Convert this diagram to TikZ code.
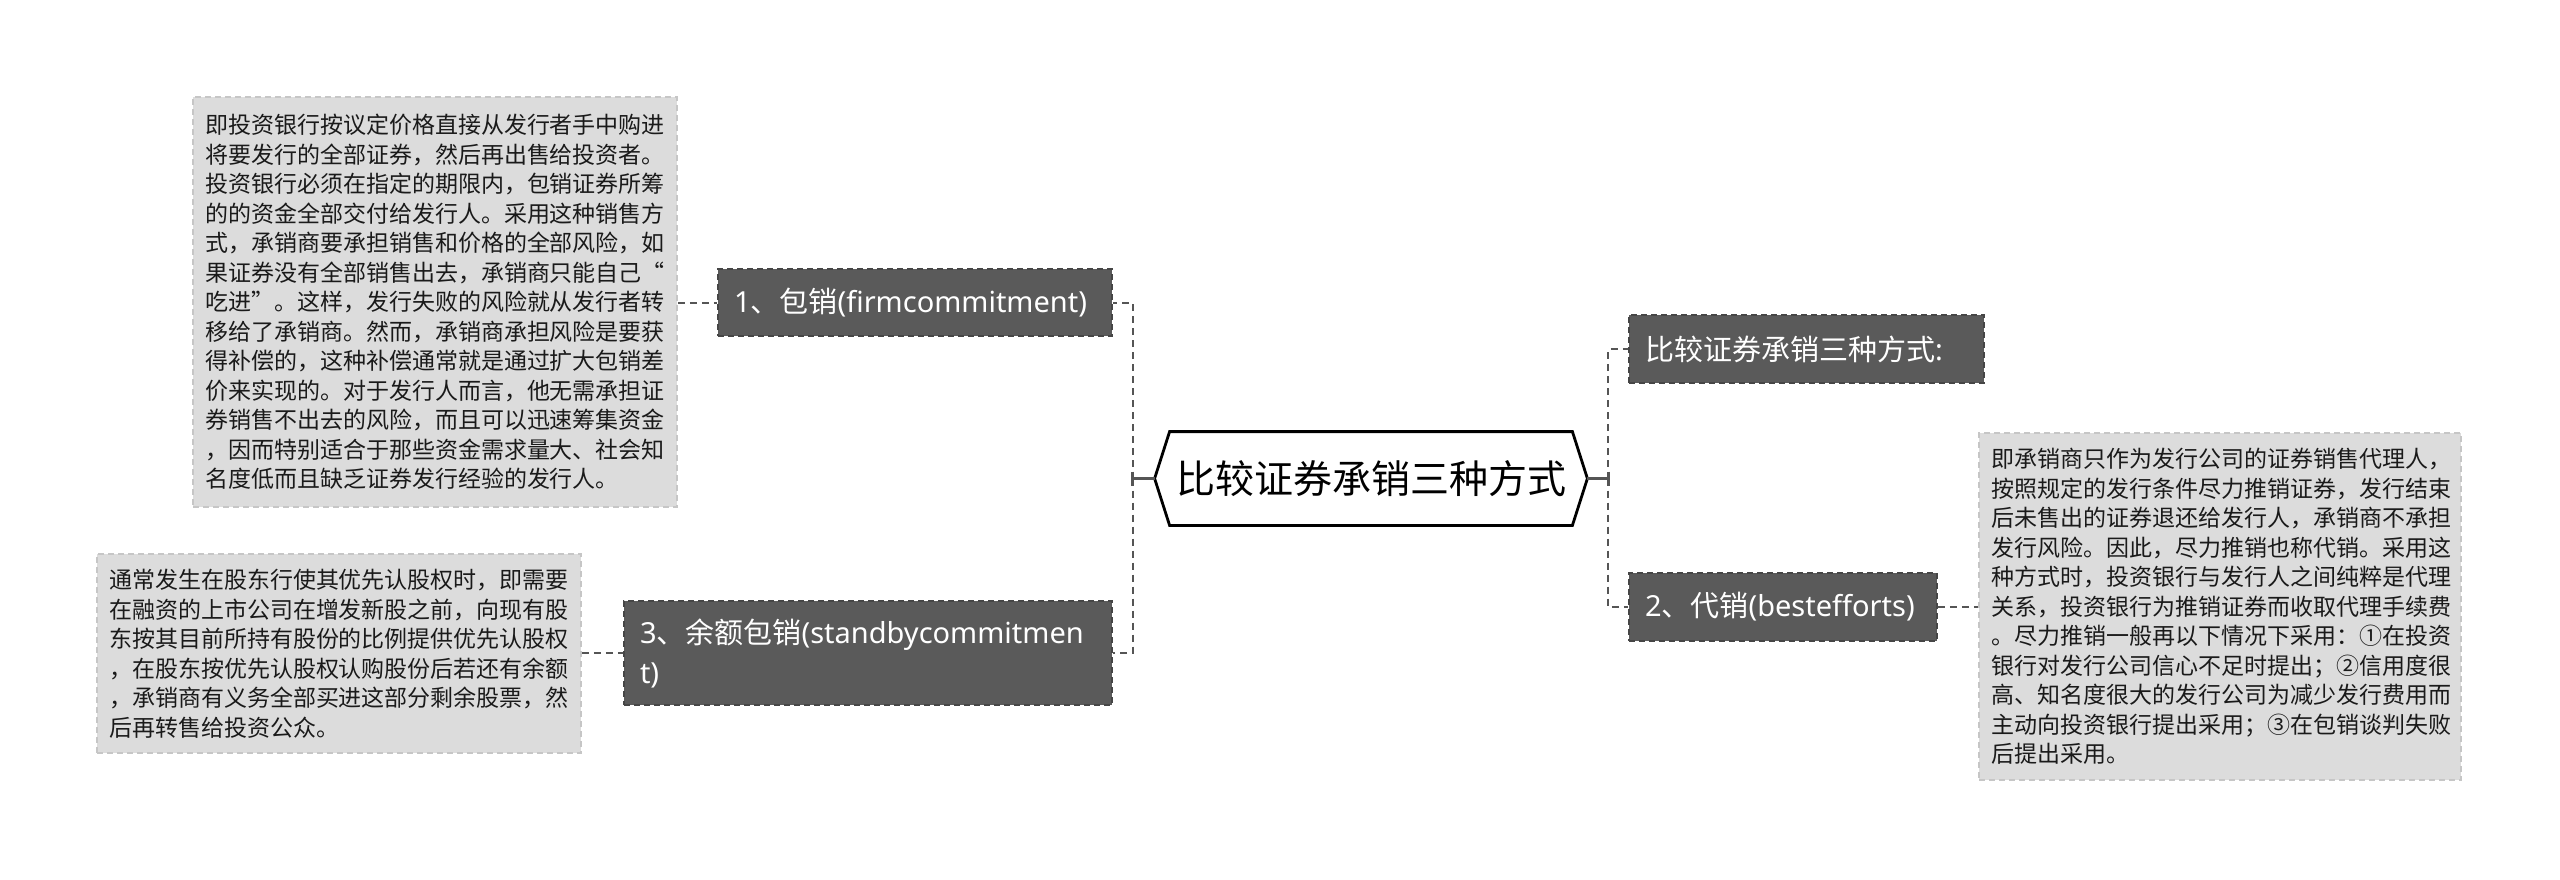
\documentclass[tikz,border=0pt]{standalone}
\usepackage{fontspec}
\setmainfont{Noto Sans}
\newfontfamily\cjk{Noto Sans CJK SC}
\usetikzlibrary{calc}
\definecolor{branchfill}{HTML}{5A5A5A}
\definecolor{branchline}{HTML}{464646}
\definecolor{notefill}{HTML}{DCDCDC}
\definecolor{noteline}{HTML}{C6C6C6}
\definecolor{connc}{HTML}{555555}
\definecolor{notetext}{HTML}{1A1A1A}
\begin{document}
\begin{tikzpicture}[x=0.5pt,y=-0.5pt,
  branch/.style={draw=branchline, dash pattern=on 3pt off 2pt, line width=0.8pt, fill=branchfill, text=white,
    font=\fontsize{14.5pt}{20pt}\selectfont, align=left, inner xsep=8pt, inner ysep=0pt},
  note/.style={draw=noteline, dash pattern=on 3pt off 2pt, line width=0.8pt, fill=notefill, text=notetext,
    font=\cjk\fontsize{11.5pt}{14.75pt}\selectfont, align=left, inner xsep=6pt, inner ysep=0pt},
  link/.style={draw=connc, line width=1pt, dash pattern=on 3.5pt off 2.5pt},
  stem/.style={draw=connc, line width=1.5pt},
  hexline/.style={draw=black, line width=1.4pt, line join=miter}]
\useasboundingbox (0,0) rectangle (2560,879);

% root
\node[inner sep=0pt, minimum width=201pt, minimum height=46.5pt,
  font=\cjk\fontsize{19.5pt}{24pt}\selectfont] (root) at (1371,478.5) {比较证券承销三种方式};
\coordinate (hexL) at ($(root.west)+(-15,0)$);
\coordinate (hexR) at ($(root.east)+(15,0)$);
\draw[hexline] (hexL) -- (root.north west) -- (root.north east) -- (hexR)
  -- (root.south east) -- (root.south west) -- cycle;

% branches
\node[branch, text width=181pt, minimum height=33.5pt] (b1) at (915,302.5)
  {1{\cjk 、包销}(firmcommitment)};
\node[branch, text width=228pt, minimum height=52pt] (b3) at (868,653)
  {3{\cjk 、余额包销}(standbycommitmen\\t)};
\node[branch, text width=161.5pt, minimum height=34pt] (tr) at (1806.5,349)
  {{\cjk 比较证券承销三种方式}:};
\node[branch, text width=138pt, minimum height=34pt] (b2) at (1783,607)
  {2{\cjk 、代销}(bestefforts)};

% notes
\node[note, text width=230pt, minimum height=205pt] (n1) at (435,302) {%
即投资银行按议定价格直接从发行者手中购进\\
将要发行的全部证券，然后再出售给投资者。\\
投资银行必须在指定的期限内，包销证券所筹\\
的的资金全部交付给发行人。采用这种销售方\\
式，承销商要承担销售和价格的全部风险，如\\
果证券没有全部销售出去，承销商只能自己“\\
吃进”。这样，发行失败的风险就从发行者转\\
移给了承销商。然而，承销商承担风险是要获\\
得补偿的，这种补偿通常就是通过扩大包销差\\
价来实现的。对于发行人而言，他无需承担证\\
券销售不出去的风险，而且可以迅速筹集资金\\
，因而特别适合于那些资金需求量大、社会知\\
名度低而且缺乏证券发行经验的发行人。};

\node[note, text width=230pt, minimum height=99.5pt] (n3) at (339,653.5) {%
通常发生在股东行使其优先认股权时，即需要\\
在融资的上市公司在增发新股之前，向现有股\\
东按其目前所持有股份的比例提供优先认股权\\
，在股东按优先认股权认购股份后若还有余额\\
，承销商有义务全部买进这部分剩余股票，然\\
后再转售给投资公众。};

\node[note, text width=229pt, minimum height=173.5pt] (n2) at (2220,606.5) {%
即承销商只作为发行公司的证券销售代理人，\\
按照规定的发行条件尽力推销证券，发行结束\\
后未售出的证券退还给发行人，承销商不承担\\
发行风险。因此，尽力推销也称代销。采用这\\
种方式时，投资银行与发行人之间纯粹是代理\\
关系，投资银行为推销证券而收取代理手续费\\
。尽力推销一般再以下情况下采用：①在投资\\
银行对发行公司信心不足时提出；②信用度很\\
高、知名度很大的发行公司为减少发行费用而\\
主动向投资银行提出采用；③在包销谈判失败\\
后提出采用。};

% connectors
\coordinate (jL) at ($(hexL)+(-22,0)$);
\coordinate (jR) at ($(hexR)+(21,0)$);
\draw[stem] (hexL) -- (jL);
\draw[stem] ($(jL)+(0,-7)$) -- ($(jL)+(0,7)$);
\draw[stem] (hexR) -- (jR);
\draw[stem] ($(jR)+(0,-7)$) -- ($(jR)+(0,7)$);
\draw[link] (jL) |- (b1.east);
\draw[link] (jL) |- (b3.east);
\draw[link] (jR) |- (tr.west);
\draw[link] (jR) |- (b2.west);
\draw[link] (n1.east |- b1.west) -- (b1.west);
\draw[link] (n3.east |- b3.west) -- (b3.west);
\draw[link] (b2.east) -- (n2.west |- b2.east);
\end{tikzpicture}
\end{document}
